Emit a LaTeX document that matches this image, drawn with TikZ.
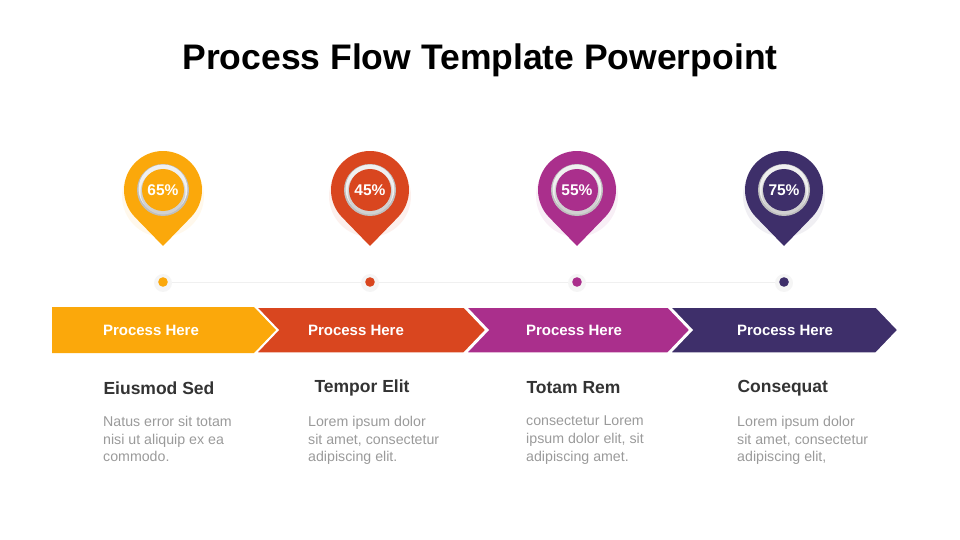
\documentclass[tikz,border=0pt]{standalone}
\usepackage{fontspec}
\setmainfont{Liberation Sans}
\usetikzlibrary{calc}
\definecolor{cA}{HTML}{FBA80B}
\definecolor{cB}{HTML}{D9461F}
\definecolor{cC}{HTML}{AA2F8C}
\definecolor{cD}{HTML}{3E2F6A}
\definecolor{head}{HTML}{333333}
\definecolor{body}{HTML}{9A9A9A}
\tikzset{
  chev/.style={draw=white,line width=1.5pt,line join=miter},
  chevtxt/.style={text=white,font=\bfseries\fontsize{15}{17}\selectfont},
  pct/.style={text=white,font=\bfseries\fontsize{15.5}{17}\selectfont},
  headtxt/.style={text=head,font=\bfseries\fontsize{17.5}{20}\selectfont,anchor=west},
  bodytxt/.style={text=body,font=\fontsize{14.2}{17.6}\selectfont,anchor=north west,align=left,inner sep=0pt},
}
\begin{document}
\begin{tikzpicture}[x=1pt,y=-1pt]
\useasboundingbox (0,0) rectangle (960,540);
\node[font=\bfseries\fontsize{35.5}{40}\selectfont] (title) at (480,60) {Process Flow Template Powerpoint};
% faint guide line
\coordinate (g1) at (163,282); \coordinate (g2) at (784,282);
\draw[black!6,line width=0.8pt] (g1) -- (g2);
% chevrons
\fill[cA] (52,307) -- (254,307) -- (276,330) -- (254,353) -- (52,353) -- cycle;
\draw[chev,fill=cB] (256,307) -- (464,307) -- (486,330) -- (464,353) -- (256,353) -- (278,330) -- cycle;
\draw[chev,fill=cC] (466,307) -- (668,307) -- (690,330) -- (668,353) -- (466,353) -- (488,330) -- cycle;
\draw[chev,fill=cD] (670,307) -- (876,307) -- (898,330) -- (876,353) -- (670,353) -- (692,330) -- cycle;
\node[chevtxt] (p1) at (151,330) {Process Here};
\node[chevtxt] (p2) at (356,330) {Process Here};
\node[chevtxt] (p3) at (574,330) {Process Here};
\node[chevtxt] (p4) at (785,330) {Process Here};
% pins
\foreach \cx/\col/\v/\n in {163/cA/65/a,370/cB/45/b,577/cC/55/c,784/cD/75/d}{
  \coordinate (c\n) at (\cx,190);
  \coordinate (t\n) at (\cx,246);
  \fill[\col,opacity=0.08] ($(c\n)+(0,6)$) circle (41);
  \fill[\col] (t\n) -- ($(c\n)+(44.1:39)$) arc[start angle=44.1,end angle=-224.1,radius=39] -- cycle;
  \fill[black!25] (c\n) circle (26);
  \fill[black!6] ($(c\n)+(0,-1)$) circle (24.5);
  \fill[black!18] ($(c\n)+(0,2)$) circle (22.5);
  \fill[\col] (c\n) circle (21);
  \node[pct] (v\n) at (c\n) {\v\%};
  \fill[black!4] (\cx,283) circle (9);
  \fill[\col] (\cx,282) circle (4.8);
}
% headings
\node[headtxt] (h1) at (100,388) {Eiusmod Sed};
\node[headtxt] (h2) at (311,388) {Tempor Elit};
\node[headtxt] (h3) at (523,388) {Totam Rem};
\node[headtxt] (h4) at (734,388) {Consequat};
\node[bodytxt] (b1) at (103,416) {Natus error sit totam\\nisi ut aliquip ex ea\\commodo.};
\node[bodytxt] (b2) at (308,416) {Lorem ipsum dolor\\sit amet, consectetur\\adipiscing elit.};
\node[bodytxt] (b3) at (526,416) {consectetur Lorem\\ipsum dolor elit, sit\\adipiscing amet.};
\node[bodytxt] (b4) at (737,416) {Lorem ipsum dolor\\sit amet, consectetur\\adipiscing elit,};
\end{tikzpicture}
\end{document}
